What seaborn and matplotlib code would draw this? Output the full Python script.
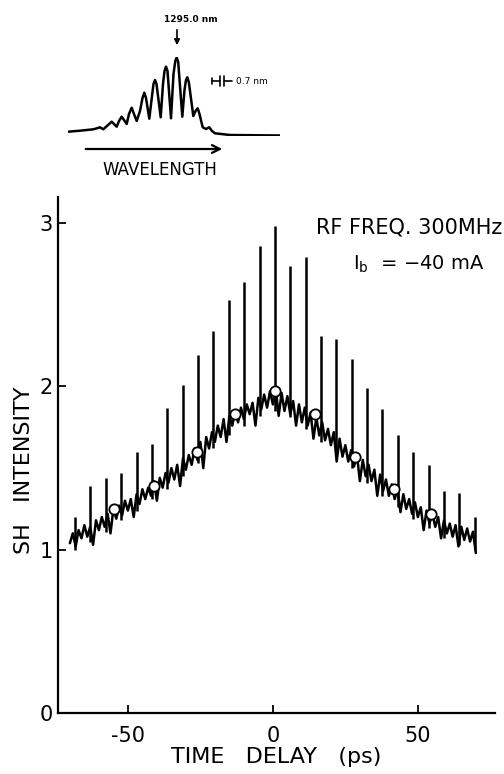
import matplotlib
matplotlib.use("Agg")
import matplotlib.pyplot as plt
import numpy as np
import seaborn as sns

sns.set_theme(style="ticks")
plt.rcParams['font.family'] = ['DejaVu Sans']
plt.rcParams['text.color'] = 'black'
plt.rcParams['axes.labelcolor'] = 'black'

# SH autocorrelation trace (background, every 1 ps)
trace_y = [
    1.04, 1.10, 1.02, 1.12, 1.07, 1.15, 1.08, 1.14, 1.03, 1.18,
    1.12, 1.20, 1.14, 1.22, 1.10, 1.25, 1.19, 1.27, 1.21, 1.30,
    1.24, 1.31, 1.20, 1.34, 1.28, 1.37, 1.31, 1.38, 1.33, 1.42,
    1.30, 1.44, 1.38, 1.47, 1.41, 1.50, 1.43, 1.52, 1.39, 1.56,
    1.49, 1.58, 1.52, 1.62, 1.55, 1.66, 1.50, 1.69, 1.62, 1.72,
    1.66, 1.76, 1.69, 1.80, 1.66, 1.82, 1.76, 1.85, 1.78, 1.87,
    1.80, 1.89, 1.83, 1.90, 1.76, 1.93, 1.86, 1.95, 1.87, 1.97,
    1.89, 1.98, 1.82, 1.96, 1.85, 1.94, 1.83, 1.91, 1.76, 1.89,
    1.78, 1.87, 1.76, 1.84, 1.68, 1.81, 1.70, 1.78, 1.67, 1.74,
    1.64, 1.72, 1.54, 1.68, 1.57, 1.64, 1.54, 1.61, 1.51, 1.58,
    1.42, 1.55, 1.45, 1.52, 1.42, 1.49, 1.33, 1.46, 1.36, 1.43,
    1.33, 1.40, 1.31, 1.37, 1.23, 1.34, 1.25, 1.31, 1.22, 1.29,
    1.20, 1.26, 1.12, 1.24, 1.16, 1.22, 1.14, 1.20, 1.07, 1.18,
    1.10, 1.16, 1.08, 1.15, 1.02, 1.14, 1.06, 1.13, 1.05, 1.11,
    0.98,
]
trace_x = np.linspace(-70, 70, len(trace_y))

# coherence spikes
spike_x = [-68.2, -62.9, -57.6, -52.3, -47.0, -41.7, -36.4, -31.1, -25.8,
           -20.5, -15.2, -9.9, -4.6, 0.7, 6.0, 11.3, 16.6, 21.9, 27.2,
           32.5, 37.8, 43.1, 48.4, 53.7, 59.0, 64.3, 69.6]
spike_top = [1.20, 1.39, 1.44, 1.47, 1.60, 1.65, 1.87, 2.01, 2.19, 2.34,
             2.53, 2.64, 2.86, 2.98, 2.74, 2.79, 2.31, 2.29, 2.17, 1.99,
             1.86, 1.70, 1.60, 1.52, 1.36, 1.35, 1.20]
spike_lo = [1.00, 1.05, 1.11, 1.18, 1.24, 1.31, 1.37, 1.45, 1.53, 1.62,
            1.70, 1.76, 1.82, 1.85, 1.81, 1.74, 1.66, 1.58, 1.50, 1.41,
            1.33, 1.26, 1.19, 1.13, 1.07, 1.03, 1.00]

# open circles
circ_x = [-54.8, -41.0, -26.2, -13.1, 0.7, 14.5, 28.3, 41.8, 54.7]
circ_y = [1.25, 1.39, 1.60, 1.83, 1.97, 1.83, 1.57, 1.37, 1.22]

# inset optical spectrum (arbitrary wavelength units, intensity)
spec_wl = [0.3, 12, 25.3, 30, 32, 35.3, 40, 43.7, 46, 48.7, 51, 53.7, 56,
           58.7, 61, 63.7, 66, 68.7, 72, 74.5, 76.3, 78, 81.3, 84, 85.5,
           87, 88.5, 92.7, 95, 96.5, 98, 99.5, 103, 105.5, 107.3, 108.7,
           110.2, 114.3, 116.5, 118, 119.3, 120.8, 125.3, 127.5, 129.7,
           131.5, 134.7, 138, 141.3, 144, 147, 162, 212]
spec_int = [4.3, 5.3, 6.7, 8.0, 8.7, 6.7, 11, 14.3, 12, 9.3, 15, 19.3, 16,
            12, 22, 28.3, 22, 15, 25, 38, 43.3, 38, 17.3, 40, 52, 56, 52,
            18.7, 52, 65, 69.3, 65, 17.7, 62, 75, 78.7, 74, 19.3, 46, 56,
            58.7, 54, 20, 25, 27.7, 22, 8.7, 7, 8.7, 5, 2.7, 1, 0.5]

fig = plt.figure(figsize=(5.04, 7.74), dpi=100)
W, H = 504, 774

# main panel
ax = fig.add_axes([58 / W, 1 - 713 / H, (495 - 58) / W, (713 - 197) / H])
sns.lineplot(x=trace_x, y=trace_y, ax=ax, color='black', lw=1.8, sort=False)
ax.vlines(spike_x, spike_lo, spike_top, color='black', lw=1.8)
sns.scatterplot(x=circ_x, y=circ_y, ax=ax, s=55, facecolor='white',
                edgecolor='black', linewidth=1.3, zorder=5)
ax.set_xlim(-74.1, 76.6)
ax.set_ylim(0, 3.16)
ax.set_xticks([-50, 0, 50])
ax.set_xticklabels(['-50', '0', '50'])
ax.set_yticks([0, 1, 2, 3])
ax.tick_params(direction='in', length=6, width=1.3, labelsize=15,
               colors='black')
ax.tick_params(axis='x', pad=9)
ax.tick_params(axis='y', pad=4)
for s in ['top', 'right']:
    ax.spines[s].set_visible(False)
for s in ['left', 'bottom']:
    ax.spines[s].set_linewidth(1.6)
    ax.spines[s].set_color('black')
ax.set_xlabel('TIME   DELAY   (ps)', fontsize=16, labelpad=1)
ax.set_ylabel('SH   INTENSITY', fontsize=16)
ax.yaxis.set_label_coords(-0.056, 0.47)

fig.text(502 / W, 1 - 227 / H, 'RF FREQ. 300MHz', fontsize=15,
         ha='right', va='center')
fig.text(353 / W, 1 - 264 / H, r'I$_\mathregular{b}$  = $-$40 mA',
         fontsize=14, ha='left', va='center')

# inset spectrum
axi = fig.add_axes([68 / W, 1 - 136 / H, 212 / W, 79 / H])
axi.plot(spec_wl, spec_int, color='black', lw=1.8)
axi.set_xlim(0, 212)
axi.set_ylim(0, 79)
axi.axis('off')
axi.annotate('', xy=(109, 88), xytext=(109, 109), annotation_clip=False,
             arrowprops=dict(arrowstyle='-|>', color='black', lw=1.2,
                             mutation_scale=8))
axi.text(123, 116, '1295.0 nm', fontsize=6.5, fontweight='bold',
         ha='center', va='center', clip_on=False)
axi.annotate('', xy=(157, -13), xytext=(15, -13), annotation_clip=False,
             arrowprops=dict(arrowstyle='->', color='black', lw=1.6,
                             mutation_scale=14))
axi.text(92, -34, 'WAVELENGTH', fontsize=12, ha='center', va='center',
         clip_on=False)
# 0.7 nm resolution mark
axi.plot([144, 152], [55, 55], color='black', lw=1.2, clip_on=False)
axi.plot([144, 144], [52, 58], color='black', lw=1.2, clip_on=False)
axi.plot([152, 152], [50, 60], color='black', lw=1.2, clip_on=False)
axi.plot([156, 156], [50, 60], color='black', lw=1.2, clip_on=False)
axi.plot([156, 164], [55, 55], color='black', lw=1.2, clip_on=False)
axi.text(168, 55, '0.7 nm', fontsize=6.5, ha='left', va='center',
         clip_on=False)

fig.savefig('out.png', dpi=100)
